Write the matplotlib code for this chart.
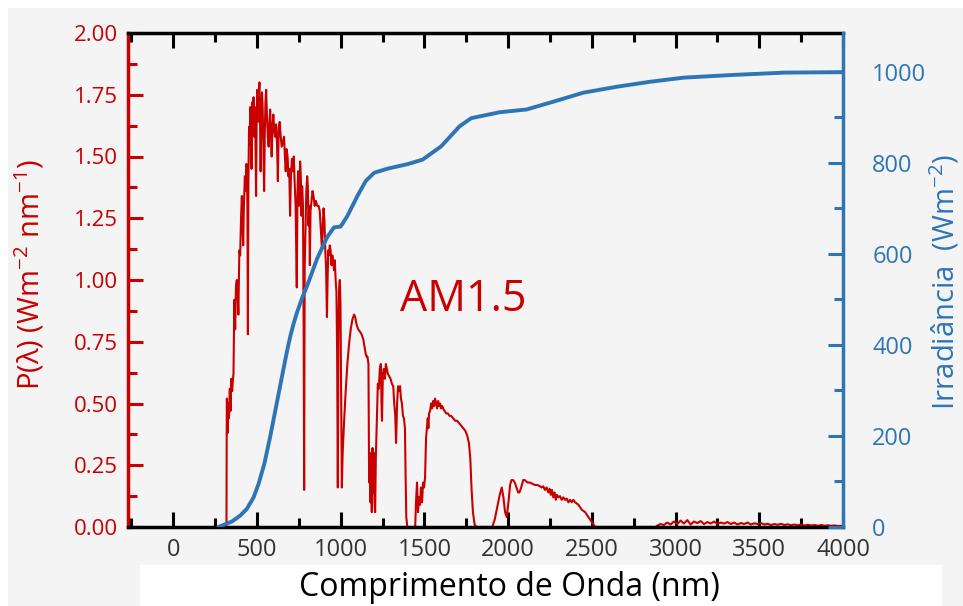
import matplotlib
matplotlib.use('Agg')
import matplotlib.pyplot as plt
from matplotlib.ticker import MultipleLocator, FixedLocator
from matplotlib.patches import Rectangle

# espectro AM1.5 (nm, W m-2 nm-1)
wavelength = [
    300, 318, 320, 321, 324, 328, 333, 338, 342, 347, 352, 357, 360, 365, 370, 375, 380, 385, 389,
    395, 400, 405, 410, 414, 418, 422, 428, 432, 437, 440, 443, 446, 449, 453, 457, 460, 464, 468,
    472, 476, 480, 484, 488, 492, 495, 498, 502, 506, 510, 515, 519, 522, 526, 530, 534, 538, 543,
    547, 551, 555, 560, 565, 570, 575, 579, 583, 588, 593, 598, 603, 608, 614, 620, 625, 630, 636,
    642, 648, 655, 662, 667, 672, 677, 683, 688, 693, 698, 703, 709, 714, 720, 726, 731, 735, 738,
    742, 746, 750, 754, 758, 762, 766, 770, 775, 779, 782, 785, 790, 795, 800, 804, 808, 812, 816,
    820, 826, 832, 838, 845, 852, 860, 868, 875, 882, 888, 893, 898, 903, 908, 913, 918, 922, 926,
    930, 935, 940, 945, 950, 955, 960, 965, 970, 975, 979, 983, 987, 991, 995, 999, 1003, 1007,
    1012, 1020, 1030, 1040, 1050, 1060, 1070, 1080, 1087, 1095, 1105, 1116, 1125, 1135, 1145, 1150,
    1155, 1160, 1166, 1170, 1174, 1178, 1182, 1186, 1190, 1194, 1198, 1202, 1206, 1210, 1216, 1222,
    1228, 1234, 1240, 1244, 1247, 1252, 1258, 1264, 1270, 1276, 1282, 1290, 1298, 1306, 1314, 1320,
    1326, 1331, 1337, 1343, 1349, 1355, 1360, 1366, 1372, 1378, 1384, 1388, 1392, 1398, 1445, 1450,
    1456, 1462, 1468, 1474, 1480, 1486, 1492, 1498, 1504, 1510, 1515, 1520, 1524, 1528, 1534, 1540,
    1546, 1552, 1558, 1564, 1570, 1576, 1582, 1588, 1594, 1600, 1606, 1612, 1620, 1630, 1640, 1650,
    1660, 1672, 1684, 1696, 1708, 1720, 1732, 1744, 1756, 1766, 1774, 1782, 1790, 1800, 1812, 1905,
    1920, 1935, 1950, 1962, 1972, 1982, 1992, 2002, 2012, 2020, 2030, 2040, 2050, 2060, 2068, 2078,
    2090, 2100, 2115, 2130, 2145, 2160, 2175, 2190, 2200, 2210, 2220, 2230, 2240, 2248, 2255, 2262,
    2270, 2278, 2285, 2292, 2300, 2310, 2320, 2330, 2340, 2350, 2360, 2370, 2380, 2390, 2400, 2420,
    2440, 2460, 2480, 2500, 2520, 2880, 2890, 2910, 2930, 2950, 2970, 2990, 3010, 3030, 3050, 3070,
    3090, 3110, 3130, 3150, 3170, 3190, 3210, 3230, 3250, 3270, 3290, 3310, 3330, 3350, 3370, 3390,
    3410, 3430, 3450, 3470, 3490, 3510, 3530, 3550, 3570, 3590, 3610, 3630, 3650, 3670, 3690, 3710,
    3730, 3750, 3770, 3790, 3810, 3830, 3850, 3870, 3890, 3910, 3930, 3950, 3970, 4000,
]
power = [
    0.00, 0.00, 0.52, 0.52, 0.38, 0.50, 0.44, 0.56, 0.47, 0.60, 0.55, 0.60, 0.62, 0.92, 0.80, 0.98, 1.00, 0.95, 0.86,
    1.12, 1.10, 1.25, 1.34, 1.22, 1.14, 1.30, 1.42, 1.36, 1.47, 1.46, 1.30, 0.78, 1.40, 1.62, 1.55, 1.70, 1.60, 1.45,
    1.72, 1.66, 1.74, 1.58, 1.70, 1.52, 1.34, 1.62, 1.77, 1.64, 1.74, 1.80, 1.62, 1.44, 1.65, 1.76, 1.70, 1.56, 1.36,
    1.60, 1.72, 1.77, 1.66, 1.58, 1.54, 1.64, 1.69, 1.60, 1.50, 1.62, 1.67, 1.61, 1.58, 1.63, 1.55, 1.40, 1.62, 1.64,
    1.58, 1.54, 1.56, 1.58, 1.50, 1.44, 1.53, 1.50, 1.42, 1.45, 1.26, 1.42, 1.49, 1.44, 1.50, 1.38, 1.30, 1.12, 0.97,
    1.35, 1.44, 1.30, 1.36, 1.48, 1.42, 1.26, 1.38, 1.30, 0.80, 0.15, 1.05, 1.20, 1.36, 1.42, 1.38, 1.22, 1.30, 1.06,
    1.28, 1.32, 1.36, 1.34, 1.30, 1.32, 1.30, 1.30, 1.28, 1.20, 1.13, 1.22, 1.29, 1.24, 1.12, 1.05, 0.85, 1.00, 1.12,
    1.10, 1.14, 1.12, 1.06, 1.10, 1.08, 1.04, 1.08, 1.00, 0.95, 0.70, 0.16, 0.80, 0.97, 1.00, 0.90, 0.50, 0.16,
    0.30, 0.42, 0.55, 0.66, 0.74, 0.80, 0.84, 0.86, 0.85, 0.82, 0.80, 0.79, 0.78, 0.76, 0.72, 0.70,
    0.69, 0.69, 0.66, 0.18, 0.30, 0.10, 0.26, 0.06, 0.32, 0.14, 0.30, 0.10, 0.06, 0.28, 0.43, 0.58,
    0.56, 0.64, 0.66, 0.50, 0.43, 0.62, 0.64, 0.60, 0.66, 0.64, 0.62, 0.61, 0.60, 0.58, 0.57, 0.50,
    0.45, 0.34, 0.50, 0.57, 0.55, 0.57, 0.52, 0.50, 0.45, 0.44, 0.40, 0.20, 0.04, 0.00, 0.00, 0.10,
    0.18, 0.06, 0.12, 0.09, 0.16, 0.10, 0.18, 0.16, 0.20, 0.36, 0.40, 0.44, 0.40, 0.46, 0.47, 0.50,
    0.48, 0.51, 0.49, 0.52, 0.50, 0.48, 0.51, 0.49, 0.50, 0.48, 0.49, 0.48, 0.47, 0.46, 0.46, 0.45,
    0.45, 0.44, 0.43, 0.43, 0.42, 0.41, 0.40, 0.39, 0.37, 0.34, 0.28, 0.15, 0.06, 0.01, 0.00, 0.00,
    0.03, 0.08, 0.13, 0.16, 0.12, 0.06, 0.04, 0.10, 0.17, 0.19, 0.19, 0.18, 0.16, 0.14, 0.14, 0.16,
    0.19, 0.19, 0.18, 0.18, 0.175, 0.17, 0.17, 0.165, 0.16, 0.165, 0.15, 0.16, 0.14, 0.155, 0.13, 0.15,
    0.12, 0.14, 0.11, 0.13, 0.12, 0.125, 0.11, 0.12, 0.11, 0.115, 0.10, 0.11, 0.10, 0.11, 0.10, 0.09,
    0.07, 0.06, 0.04, 0.02, 0.00, 0.00, 0.005, 0.012, 0.008, 0.018, 0.010, 0.022, 0.012, 0.026, 0.014, 0.028,
    0.010, 0.022, 0.016, 0.024, 0.012, 0.020, 0.014, 0.022, 0.012, 0.018, 0.014, 0.020, 0.012, 0.018, 0.010, 0.016,
    0.012, 0.018, 0.010, 0.015, 0.012, 0.016, 0.010, 0.013, 0.008, 0.012, 0.009, 0.013, 0.008, 0.011, 0.007, 0.010,
    0.007, 0.010, 0.006, 0.009, 0.006, 0.008, 0.005, 0.008, 0.005, 0.007, 0.005, 0.006, 0.004, 0.005,
]

# irradiancia acumulada (W m-2)
cum_wavelength = [270, 350, 400, 440, 480, 510, 545, 580, 620, 660, 680, 700, 720, 740, 770, 800,
                  860, 920, 960, 1000, 1040, 1100, 1150, 1200, 1280, 1400, 1490, 1600, 1710, 1780,
                  1950, 2110, 2250, 2450, 2650, 2850, 3050, 3350, 3650, 4000]
irradiance = [0, 12, 25, 40, 65, 95, 140, 200, 275, 350, 387, 420, 448, 472, 503, 530,
              590, 637, 658, 660, 683, 727, 760, 778, 787, 797, 807, 836, 880, 898,
              911, 917, 932, 954, 967, 978, 987, 993, 998, 999]

x_ticks = [0, 500, 1000, 1500, 2000, 2500, 3000, 3500, 4000]
left_ticks = [0.0, 0.25, 0.5, 0.75, 1.0, 1.25, 1.5, 1.75, 2.0]
right_ticks = [0, 200, 400, 600, 800, 1000]

RED = '#c80000'
BLUE = '#2e75b6'
BG = '#f4f4f4'

plt.rcParams['font.family'] = ['Open Sans', 'DejaVu Sans']
plt.rcParams['mathtext.fontset'] = 'custom'
plt.rcParams['mathtext.rm'] = 'Open Sans'
plt.rcParams['mathtext.it'] = 'Open Sans:italic'

W, H = 963, 606
fig = plt.figure(figsize=(W / 100, H / 100), dpi=100)
fig.patch.set_facecolor('white')
# fundo cinza e faixa branca atras do titulo do eixo x
fig.patches.append(Rectangle((8 / W, 0), 1, 1 - 8 / H, transform=fig.transFigure,
                             facecolor=BG, edgecolor='none', zorder=-10))
fig.patches.append(Rectangle((140 / W, 0), 802 / W, 41 / H, transform=fig.transFigure,
                             facecolor='white', edgecolor='none', zorder=-9))

ax = fig.add_axes([128 / W, 1 - 527 / H, 715 / W, 494 / H])
ax.set_facecolor(BG)
ax.plot(wavelength, power, color=RED, lw=1.5)
ax.set_xlim(-270, 4000)
ax.set_ylim(0, 2.0)

ax.xaxis.set_major_locator(FixedLocator(x_ticks))
ax.xaxis.set_minor_locator(MultipleLocator(250))
ax.yaxis.set_major_locator(FixedLocator(left_ticks))
ax.yaxis.set_minor_locator(MultipleLocator(0.125))
ax.set_yticklabels(['%.2f' % v for v in left_ticks])

ax.tick_params(axis='x', which='both', direction='in', top=True, bottom=True,
               color='black', width=2.2, labelsize=17, labelcolor='#333333', pad=8)
ax.tick_params(axis='x', which='major', length=11)
ax.tick_params(axis='x', which='minor', length=6.5)
ax.tick_params(axis='y', which='both', direction='in', left=True, right=False,
               color=RED, width=2.2, labelsize=16, labelcolor=RED, pad=7)
ax.tick_params(axis='y', which='major', length=11)
ax.tick_params(axis='y', which='minor', length=6.5)

ax.spines['left'].set_color(RED)
ax.spines['left'].set_linewidth(2.5)
ax.spines['top'].set_linewidth(2.5)
ax.spines['bottom'].set_linewidth(2.5)
ax.spines['right'].set_visible(False)

ax2 = ax.twinx()
ax2.patch.set_visible(False)
ax2.plot(cum_wavelength, irradiance, color=BLUE, lw=2.8, solid_capstyle='round')
ax2.set_ylim(0, 1085)
ax2.yaxis.set_major_locator(FixedLocator(right_ticks))
ax2.yaxis.set_minor_locator(MultipleLocator(100))
ax2.tick_params(axis='y', which='both', direction='in', color=BLUE, width=2.2,
                labelsize=17, labelcolor=BLUE, pad=21)
ax2.tick_params(axis='y', which='major', length=11)
ax2.tick_params(axis='y', which='minor', length=6.5)
for s in ['left', 'top', 'bottom']:
    ax2.spines[s].set_visible(False)
ax2.spines['right'].set_color(BLUE)
ax2.spines['right'].set_linewidth(2.5)

ax.text(1730, 0.92, 'AM1.5', color=RED, fontsize=31, ha='center', va='center')

fig.text(30 / W, 1 - 275 / H, r'P(λ) (Wm$^{-2}$ nm$^{-1}$)', color=RED, fontsize=21,
         rotation=90, ha='center', va='center')
fig.text(961 / W, 1 - 282 / H, r'Irradiância  (Wm$^{-2}$)', color=BLUE, fontsize=21,
         rotation=90, ha='right', va='center')
fig.text(509 / W, 1 - 587 / H, 'Comprimento de Onda (nm)', color='black', fontsize=23,
         ha='center', va='center')

fig.savefig('out.png', dpi=100, facecolor=fig.get_facecolor())
